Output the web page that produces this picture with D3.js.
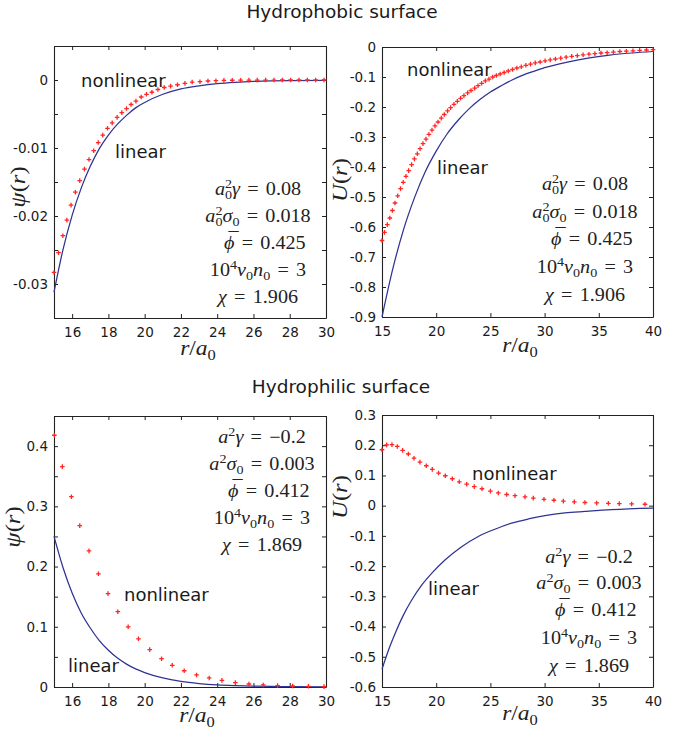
<!DOCTYPE html>
<html>
<head>
<meta charset="utf-8">
<script src="https://cdn.jsdelivr.net/npm/d3@7"></script>
<style>
  body { margin: 0; background: #fff; }
</style>
</head>
<body>
<div id="chart"></div>
<script>
const width = 685;
const height = 730;

const serif = "'Liberation Serif', 'Times New Roman', serif";
const sans = "'DejaVu Sans', Verdana, sans-serif";
const stretch = 1.12; // the original text is a bit wider than it is tall

// ---- data ----

// hydrophobic surface, psi(r)
const phobicPsiLinear = [[15,-0.0312],[15.5,-0.0249],[16,-0.0199],[16.5,-0.0159],[17,-0.0127],[17.5,-0.0101],[18,-0.0081],[18.5,-0.0065],[19,-0.0052],[19.5,-0.0041],[20,-0.0033],[21,-0.0021],[22,-0.0013],[23,-0.00085],[24,-0.00054],[25,-0.00035],[26,-0.00022],[27,-0.00014],[28,-0.00009],[30,-0.00004]];
const phobicPsiNonlinear = [[15,-0.0283],[15.25,-0.0254],[15.49,-0.0229],[15.71,-0.0206],[15.94,-0.0184],[16.18,-0.0165],[16.42,-0.0148],[16.68,-0.0131],[16.93,-0.0117],[17.19,-0.0104],[17.44,-0.0092],[17.69,-0.0081],[17.95,-0.0071],[18.21,-0.0063],[18.48,-0.0055],[18.74,-0.0048],[19.0,-0.0042],[19.25,-0.0036],[19.52,-0.0031],[19.81,-0.0025],[20.1,-0.0021],[20.4,-0.0018],[20.73,-0.0014],[21.08,-0.0011],[21.43,-0.0009],[21.81,-0.0007],[22.22,-0.0005],[22.62,-0.0003],[23.05,-0.00025],[23.49,-0.00015],[23.93,-0.0001],[24.37,-0.00005],[24.83,-0.00004],[25.29,-0.00003],[25.75,-0.00002],[26.21,-0.00002],[26.67,-0.00001],[27.13,-0.00001],[27.59,0],[28.05,0],[28.51,0],[28.97,0],[29.43,0],[29.89,0]];

// hydrophobic surface, U(r)
const phobicULinear = [[15,-0.9],[16,-0.739],[17,-0.607],[18,-0.502],[19,-0.415],[20,-0.347],[21,-0.29],[22,-0.245],[23,-0.207],[24,-0.176],[25,-0.15],[26,-0.129],[27,-0.11],[28,-0.094],[29,-0.081],[30,-0.069],[32,-0.051],[34,-0.037],[36,-0.027],[38,-0.02],[40,-0.015]];
const phobicUNonlinear = [[15,-0.645],[15.23,-0.618],[15.49,-0.592],[15.72,-0.57],[15.96,-0.545],[16.2,-0.52],[16.45,-0.496],[16.71,-0.472],[16.96,-0.451],[17.21,-0.431],[17.46,-0.412],[17.73,-0.392],[17.99,-0.373],[18.26,-0.356],[18.51,-0.339],[18.78,-0.322],[19.06,-0.307],[19.33,-0.291],[19.61,-0.277],[19.89,-0.263],[20.17,-0.25],[20.47,-0.237],[20.75,-0.225],[21.05,-0.213],[21.33,-0.202],[21.64,-0.191],[21.95,-0.181],[22.25,-0.171],[22.56,-0.162],[22.9,-0.153],[23.21,-0.145],[23.55,-0.137],[23.86,-0.129],[24.19,-0.121],[24.53,-0.113],[24.87,-0.107],[25.21,-0.1],[25.55,-0.095],[25.9,-0.09],[26.27,-0.085],[26.65,-0.08],[27.04,-0.075],[27.44,-0.07],[27.85,-0.066],[28.27,-0.061],[28.7,-0.057],[29.14,-0.053],[29.59,-0.05],[30.05,-0.046],[30.52,-0.043],[31.0,-0.04],[31.49,-0.037],[31.99,-0.034],[32.5,-0.031],[33.02,-0.029],[33.55,-0.026],[34.09,-0.024],[34.64,-0.022],[35.2,-0.02],[35.77,-0.019],[36.35,-0.017],[36.94,-0.015],[37.54,-0.014],[38.15,-0.013],[38.77,-0.011],[39.4,-0.01],[40,-0.009]];

// hydrophilic surface, psi(r)
const philicPsiLinear = [[15,0.25],[15.5,0.198],[16,0.156],[16.5,0.123],[17,0.098],[17.5,0.077],[18,0.061],[18.5,0.048],[19,0.038],[19.5,0.03],[20,0.024],[21,0.015],[22,0.0093],[23,0.0058],[24,0.0036],[25,0.0023],[26,0.0014],[27,0.0009],[28,0.0006],[30,0.0002]];
const philicPsiNonlinear = [[15.02,0.418],[15.46,0.366],[15.96,0.316],[16.42,0.268],[16.93,0.226],[17.45,0.188],[17.98,0.155],[18.52,0.125],[19.09,0.1],[19.66,0.08],[20.28,0.062],[20.93,0.047],[21.52,0.036],[22.18,0.027],[22.86,0.02],[23.56,0.015],[24.26,0.011],[25.0,0.0073],[25.75,0.005],[26.54,0.0034],[27.33,0.0023],[28.16,0.0017],[29.03,0.0012],[29.89,0.0006]];

// hydrophilic surface, U(r)
const philicULinear = [[15,-0.541],[15.58,-0.48],[16.2,-0.424],[16.96,-0.363],[17.73,-0.313],[18.66,-0.263],[19.58,-0.224],[20.81,-0.18],[22.35,-0.136],[23.88,-0.102],[25.42,-0.078],[26.96,-0.058],[28.5,-0.044],[30.03,-0.033],[31.88,-0.024],[33.72,-0.019],[36.18,-0.013],[40,-0.008]];
const philicUNonlinear = [[15,0.185],[15.43,0.201],[15.92,0.202],[16.41,0.196],[16.9,0.183],[17.43,0.171],[17.95,0.157],[18.5,0.144],[19.09,0.132],[19.64,0.12],[20.22,0.108],[20.84,0.099],[21.49,0.089],[22.13,0.079],[22.81,0.071],[23.51,0.063],[24.22,0.056],[25.0,0.048],[25.73,0.042],[26.5,0.037],[27.27,0.033],[28.19,0.029],[28.96,0.025],[29.94,0.021],[30.86,0.018],[31.73,0.015],[32.74,0.0125],[33.72,0.0105],[34.8,0.009],[35.88,0.0078],[36.89,0.0067],[38.03,0.0056],[39.26,0.0047]];

// ticks and tick labels
const xTicksShort = [16, 18, 20, 22, 24, 26, 28, 30];
const xTicksLong = [15, 20, 25, 30, 35, 40];
const phobicPsiTicks = [-0.035, -0.03, -0.025, -0.02, -0.015, -0.01, -0.005, 0, 0.005];
const phobicPsiLabels = [-0.03, -0.02, -0.01, 0];
const phobicUTicks = [-0.9, -0.8, -0.7, -0.6, -0.5, -0.4, -0.3, -0.2, -0.1, 0];
const philicPsiTicks = [0, 0.05, 0.1, 0.15, 0.2, 0.25, 0.3, 0.35, 0.4, 0.45];
const philicPsiLabels = [0, 0.1, 0.2, 0.3, 0.4];
const philicUTicks = [-0.6, -0.5, -0.4, -0.3, -0.2, -0.1, 0, 0.1, 0.2, 0.3];

// parameter boxes: [text, kind]
const phobicParams = [
    [["a", "i"], ["2", "sup"], ["0", "subb"], ["γ", "i"], ["=", "eq"], ["0.08", "n"]],
    [["a", "i"], ["2", "sup"], ["0", "subb"], ["σ", "i"], ["0", "sub"], ["=", "eq"], ["0.018", "n"]],
    [["ϕ", "bar"], ["=", "eq"], ["0.425", "n"]],
    [["10", "n"], ["4", "sup"], ["v", "i"], ["0", "sub"], ["n", "i"], ["0", "sub"], ["=", "eq"], ["3", "n"]],
    [["χ", "i"], ["=", "eq"], ["1.906", "n"]]
];
const philicParams = [
    [["a", "i"], ["2", "sup"], ["γ", "i"], ["=", "eq"], ["−0.2", "n"]],
    [["a", "i"], ["2", "sup"], ["σ", "i"], ["0", "sub"], ["=", "eq"], ["0.003", "n"]],
    [["ϕ", "bar"], ["=", "eq"], ["0.412", "n"]],
    [["10", "n"], ["4", "sup"], ["v", "i"], ["0", "sub"], ["n", "i"], ["0", "sub"], ["=", "eq"], ["3", "n"]],
    [["χ", "i"], ["=", "eq"], ["1.869", "n"]]
];

const psiLabel = [["ψ", "i"], ["(", "n"], ["r", "i"], [")", "n"]];
const uLabel = [["U", "i"], ["(", "n"], ["r", "i"], [")", "n"]];
const rLabel = [["r", "i"], ["/", "n"], ["a", "i"], ["0", "sub"]];

// ---- drawing ----

const svg = d3.select("#chart").append("svg").attr("width", width).attr("height", height);

// writes TeX-like text as tspans (italic, super/subscripts, bar, spaced "=")
function mathText(sel, parts, size) {
    let shift = 0;
    let pad = 0;
    parts.forEach(([t, kind]) => {
        if (kind === "bar") {
            // macron first, then the letter pulled back under it
            sel.append("tspan").text("\u00AF")
                .attr("font-size", size)
                .attr("dx", 0.34 * size + pad)
                .attr("dy", -0.24 * size - shift);
            sel.append("tspan").text(t)
                .attr("font-size", size)
                .attr("font-style", "italic")
                .attr("dx", -0.72 * size)
                .attr("dy", 0.24 * size);
            shift = 0; pad = 0;
            return;
        }
        const ts = sel.append("tspan").text(t);
        let target = 0, fs = size, dx = pad;
        if (kind === "sup") { target = -0.4 * size; fs = 0.7 * size; }
        if (kind === "sub" || kind === "subb") { target = 0.22 * size; fs = 0.7 * size; }
        if (kind === "subb") dx = -0.5 * 0.7 * size; // sits under the superscript
        if (kind === "eq") dx += 0.36 * size;
        if (dx) ts.attr("dx", dx);
        ts.attr("dy", target - shift).attr("font-size", fs);
        if (kind === "i") ts.attr("font-style", "italic");
        shift = target;
        pad = kind === "eq" ? 0.36 * size : 0;
    });
}

function mathLabel(parent, x, y, parts, size, rotate) {
    const t = parent.append("text")
        .attr("transform", `translate(${x},${y})${rotate ? " rotate(-90)" : ""} scale(${stretch},1)`)
        .attr("text-anchor", "middle")
        .attr("font-family", serif)
        .attr("font-size", size)
        .attr("fill", "#222");
    mathText(t, parts, size);
}

const fmtTick = labels => d => labels.some(v => Math.abs(v - d) < 1e-9) ? String(d) : "";

function drawPanel(cfg) {
    const x = d3.scaleLinear().domain(cfg.xDomain).range([cfg.left, cfg.right]);
    const y = d3.scaleLinear().domain(cfg.yDomain).range([cfg.bottom, cfg.top]);
    const g = svg.append("g");

    g.append("g")
        .attr("transform", `translate(0,${cfg.bottom})`)
        .call(d3.axisBottom(x).tickValues(cfg.xTicks).tickSize(-4).tickSizeOuter(0).tickPadding(9).tickFormat(d => String(d)));
    g.append("g")
        .attr("transform", `translate(0,${cfg.top})`)
        .call(d3.axisTop(x).tickValues(cfg.xTicks).tickSize(-4).tickSizeOuter(0).tickFormat(""));
    g.append("g")
        .attr("transform", `translate(${cfg.left},0)`)
        .call(d3.axisLeft(y).tickValues(cfg.yTicks).tickSize(-4).tickSizeOuter(0).tickPadding(6).tickFormat(fmtTick(cfg.yLabels)));
    g.append("g")
        .attr("transform", `translate(${cfg.right},0)`)
        .call(d3.axisRight(y).tickValues(cfg.yTicks).tickSize(-4).tickSizeOuter(0).tickFormat(""));

    g.selectAll(".domain").attr("stroke", "#222").attr("stroke-width", 1.1);
    g.selectAll(".tick line").attr("stroke", "#222");
    g.selectAll(".tick text")
        .attr("font-family", sans)
        .attr("font-size", 13.5)
        .attr("fill", "#1a1a1a");

    const line = d3.line()
        .x(d => x(d[0]))
        .y(d => y(d[1]))
        .curve(d3.curveMonotoneX);

    g.append("path")
        .datum(cfg.linear)
        .attr("d", line)
        .attr("fill", "none")
        .attr("stroke", "#2d3393")
        .attr("stroke-width", 1.25);

    g.selectAll("path.plus")
        .data(cfg.nonlinear)
        .join("path")
        .attr("class", "plus")
        .attr("transform", d => `translate(${x(d[0])},${y(d[1])})`)
        .attr("d", "M-2.3,0H2.3M0,-2.3V2.3")
        .attr("stroke", "#ff2626")
        .attr("stroke-width", 1.3);

    g.append("text")
        .attr("x", cfg.nonlinearAt[0]).attr("y", cfg.nonlinearAt[1])
        .attr("font-family", sans).attr("font-size", 18).attr("fill", "#1a1a1a")
        .text("nonlinear");
    g.append("text")
        .attr("x", cfg.linearAt[0]).attr("y", cfg.linearAt[1])
        .attr("font-family", sans).attr("font-size", 18).attr("fill", "#1a1a1a")
        .text("linear");

    cfg.params.forEach((p, i) => mathLabel(g, cfg.paramX, cfg.paramY[i], p, 18, false));

    mathLabel(g, cfg.xLabelAt[0], cfg.xLabelAt[1], rLabel, 21, false);
    mathLabel(g, cfg.yLabelAt[0], cfg.yLabelAt[1], cfg.yLabel, 22, true);
}

drawPanel({
    left: 54, right: 326, top: 46, bottom: 318,
    xDomain: [15, 30], yDomain: [-0.035, 0.005],
    xTicks: xTicksShort, yTicks: phobicPsiTicks, yLabels: phobicPsiLabels,
    linear: phobicPsiLinear, nonlinear: phobicPsiNonlinear,
    nonlinearAt: [81, 87], linearAt: [115, 158],
    params: phobicParams, paramX: 258, paramY: [195, 222, 249, 276, 303],
    xLabelAt: [198, 355], yLabelAt: [25, 187], yLabel: psiLabel
});

drawPanel({
    left: 382, right: 653, top: 47, bottom: 317,
    xDomain: [15, 40], yDomain: [-0.9, 0],
    xTicks: xTicksLong, yTicks: phobicUTicks, yLabels: phobicUTicks,
    linear: phobicULinear, nonlinear: phobicUNonlinear,
    nonlinearAt: [407, 76], linearAt: [437, 174],
    params: phobicParams, paramX: 585, paramY: [190, 218, 245, 273, 301],
    xLabelAt: [520, 352], yLabelAt: [347, 180], yLabel: uLabel
});

drawPanel({
    left: 54, right: 326, top: 416, bottom: 687,
    xDomain: [15, 30], yDomain: [0, 0.45],
    xTicks: xTicksShort, yTicks: philicPsiTicks, yLabels: philicPsiLabels,
    linear: philicPsiLinear, nonlinear: philicPsiNonlinear,
    nonlinearAt: [124, 601], linearAt: [68, 672],
    params: philicParams, paramX: 262, paramY: [443, 470, 497, 524, 551],
    xLabelAt: [197, 722], yLabelAt: [20, 527], yLabel: psiLabel
});

drawPanel({
    left: 382, right: 653, top: 415, bottom: 687,
    xDomain: [15, 40], yDomain: [-0.6, 0.3],
    xTicks: xTicksLong, yTicks: philicUTicks, yLabels: philicUTicks,
    linear: philicULinear, nonlinear: philicUNonlinear,
    nonlinearAt: [472, 480], linearAt: [428, 595],
    params: philicParams, paramX: 589, paramY: [563, 589, 616, 644, 672],
    xLabelAt: [520, 720], yLabelAt: [347, 497], yLabel: uLabel
});

// section titles
svg.append("text")
    .attr("x", 342).attr("y", 18)
    .attr("text-anchor", "middle")
    .attr("font-family", sans).attr("font-size", 18.5).attr("fill", "#1a1a1a")
    .text("Hydrophobic surface");

svg.append("text")
    .attr("x", 341).attr("y", 393)
    .attr("text-anchor", "middle")
    .attr("font-family", sans).attr("font-size", 18.5).attr("fill", "#1a1a1a")
    .text("Hydrophilic surface");
</script>
</body>
</html>
